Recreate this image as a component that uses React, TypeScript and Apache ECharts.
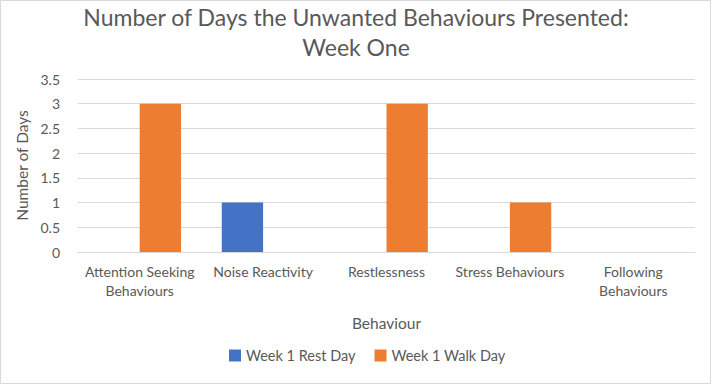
import React, { useEffect, useRef } from "react";
import * as echarts from "echarts";

const categories = [
  "Attention Seeking\nBehaviours",
  "Noise Reactivity",
  "Restlessness",
  "Stress Behaviours",
  "Following\nBehaviours",
];
const restDay = [0, 1, 0, 0, 0];
const walkDay = [3, 0, 3, 1, 0];
const seriesNames = ["Week 1 Rest Day", "Week 1 Walk Day"];
const titleLines = ["Number of Days the Unwanted Behaviours Presented:", "Week One"];

const FONT = "Lato, 'Open Sans', sans-serif";
const GREY = "#595959";

export default function App() {
  const ref = useRef<HTMLDivElement>(null);
  useEffect(() => {
    document.body.style.margin = "0";
    const chart = echarts.init(ref.current!, null, { renderer: "svg" });
    const titleStyle = {
      fontFamily: FONT,
      fontSize: 23,
      fontWeight: "normal",
      color: GREY,
    };
    chart.setOption({
      animation: false,
      backgroundColor: "#ffffff",
      textStyle: { fontFamily: FONT },
      title: [
        { text: titleLines[0], left: "center", top: 5, padding: 0, textStyle: titleStyle },
        { text: titleLines[1], left: "center", top: 35, padding: 0, textStyle: titleStyle },
      ],
      graphic: [
        {
          type: "rect",
          shape: { x: 0.5, y: 0.5, width: 710, height: 383 },
          style: { fill: "none", stroke: "#d9d9d9", lineWidth: 1 },
          silent: true,
        },
      ],
      legend: {
        bottom: 17,
        left: 224,
        itemWidth: 12,
        itemHeight: 12,
        itemGap: 19,
        icon: "rect",
        textStyle: { fontFamily: FONT, fontSize: 14.5, color: GREY },
        data: seriesNames,
      },
      grid: { left: 78, right: 17, top: 79, bottom: 133 },
      xAxis: {
        type: "category",
        data: categories,
        name: "Behaviour",
        nameLocation: "middle",
        nameGap: 63,
        nameTextStyle: { fontFamily: FONT, fontSize: 15.5, color: GREY, verticalAlign: "top" },
        axisLine: { lineStyle: { color: "#d9d9d9" } },
        axisTick: { show: false },
        axisLabel: {
          interval: 0,
          fontFamily: FONT,
          fontSize: 14,
          color: GREY,
          lineHeight: 19,
          margin: 10,
        },
      },
      yAxis: {
        type: "value",
        min: 0,
        max: 3.5,
        interval: 0.5,
        name: "Number of Days",
        nameLocation: "middle",
        nameGap: 45,
        nameTextStyle: { fontFamily: FONT, fontSize: 15.5, color: GREY },
        axisLine: { show: false },
        axisTick: { show: false },
        axisLabel: { fontFamily: FONT, fontSize: 14, color: GREY, margin: 18 },
        splitLine: { lineStyle: { color: "#d9d9d9" } },
      },
      series: [
        {
          name: seriesNames[0],
          type: "bar",
          data: restDay,
          itemStyle: { color: "#4472C4" },
          barGap: "0%",
          barCategoryGap: "33%",
        },
        {
          name: seriesNames[1],
          type: "bar",
          data: walkDay,
          itemStyle: { color: "#ED7D31" },
          barGap: "0%",
          barCategoryGap: "33%",
        },
      ],
    });
    return () => chart.dispose();
  }, []);
  return <div ref={ref} style={{ width: 712, height: 385 }} />;
}
